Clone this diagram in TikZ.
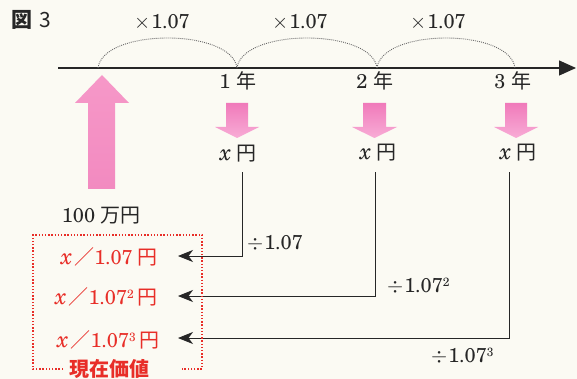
\documentclass[tikz,border=0pt]{standalone}
\usepackage{fontspec}
\setmainfont{TeX Gyre Schola}
\newfontfamily\jp{Noto Sans CJK JP}
\usetikzlibrary{arrows.meta}
\definecolor{bg}{RGB}{251,250,243}
\definecolor{ink}{RGB}{38,38,38}
\definecolor{redtxt}{RGB}{232,46,40}
\definecolor{pinkd}{RGB}{240,122,186}
\definecolor{pinkl}{RGB}{248,172,214}
\definecolor{pinku}{RGB}{242,138,192}
\definecolor{pinkv}{RGB}{246,152,200}
\newcommand\jpn[1]{{\jp\fontsize{20}{24}\selectfont #1}}
\newcommand\supr[1]{\raisebox{5.5pt}{\fontsize{12}{12}\selectfont #1}}
\newcommand\xv{{\fontsize{23}{24}\selectfont\itshape x}}
\tikzset{
  txt/.style={inner sep=0pt, text height=14pt, text depth=4pt, text=ink, font=\fontsize{20}{24}\selectfont},
  pv/.style={txt, text=redtxt},
  conn/.style={draw=ink, line width=0.9pt, -{Stealth[length=15pt,width=12pt,inset=4.5pt]}},
  axisline/.style={draw=ink, line width=1.3pt, -{Triangle[length=17pt,width=15pt]}},
  arcline/.style={draw=black!60, line width=0.9pt, dash pattern=on 0.9pt off 1.1pt},
  pinkdown/.style={top color=pinkd, bottom color=pinkl, draw=none},
  pinkup/.style={top color=pinkv, bottom color=pinku, draw=none},
  redbox/.style={draw=redtxt, line width=1.4pt, dash pattern=on 1.4pt off 1.8pt},
}
\begin{document}
\begin{tikzpicture}[x=1pt,y=-1pt]
\useasboundingbox (0,0) rectangle (577,379);
\fill[bg] (0,0) rectangle (577,379);

% axis
\coordinate (ax0) at (58,68);
\coordinate (ax1) at (576,68);
\draw[axisline] (ax0) -- (ax1);
\coordinate (t0) at (98,68);
\coordinate (t1) at (237,68);
\coordinate (t2) at (377,68);
\coordinate (t3) at (515,68);
\draw[arcline] (t0) .. controls (103,28) and (232,28) .. (t1);
\draw[arcline] (t1) .. controls (242,28) and (372,28) .. (t2);
\draw[arcline] (t2) .. controls (382,28) and (510,28) .. (t3);

% title and multipliers
\node[txt, anchor=west] (fig) at (11,23) {{\jp\fontsize{21}{24}\selectfont\bfseries 図}\hspace{7pt}{\jp\fontsize{21}{24}\selectfont 3}};
\node[txt] (m1) at (162,23.5) {$\times$\hspace{1pt}1.07};
\node[txt] (m2) at (300,23.5) {$\times$\hspace{1pt}1.07};
\node[txt] (m3) at (438,23.5) {$\times$\hspace{1pt}1.07};

% years
\node[txt] (y1) at (238,84) {1\hspace{6pt}\jpn{年}};
\node[txt] (y2) at (375,84) {2\hspace{6pt}\jpn{年}};
\node[txt] (y3) at (513,84) {3\hspace{6pt}\jpn{年}};

% pink arrows
\path[pinkup] (88,189) -- (88,103) -- (75,103) -- (102,75) -- (129,103) -- (115,103) -- (115,189) -- cycle;
\path[pinkdown] (226,103) -- (248,103) -- (248,127) -- (259,127) -- (237,138) -- (215,127) -- (226,127) -- cycle;
\path[pinkdown] (363,103) -- (386,103) -- (386,127) -- (397,127) -- (374.5,138) -- (352,127) -- (363,127) -- cycle;
\path[pinkdown] (505,103) -- (527,103) -- (527,127) -- (538,127) -- (516,138) -- (494,127) -- (505,127) -- cycle;

% amounts
\node[txt] (x1) at (238,156) {\xv\hspace{5pt}\jpn{円}};
\node[txt] (x2) at (378,155) {\xv\hspace{5pt}\jpn{円}};
\node[txt] (x3) at (518,155) {\xv\hspace{5pt}\jpn{円}};
\node[txt] (base) at (101,217) {100\hspace{5pt}\jpn{万円}};

% present values
\node[pv, anchor=east] (p1) at (158,259) {\xv\hspace{2pt}\jpn{／}1.07\hspace{5pt}\jpn{円}};
\node[pv, anchor=east] (p2) at (158,299) {\xv\hspace{2pt}\jpn{／}1.07\supr{2}\hspace{4pt}\jpn{円}};
\node[pv, anchor=east] (p3) at (160,342) {\xv\hspace{2pt}\jpn{／}1.07\supr{3}\hspace{4pt}\jpn{円}};

% connectors
\draw[conn] ([xshift=4pt,yshift=-7pt]x1.south) |- ([xshift=20pt,yshift=3pt]p1.east);
\draw[conn] ([xshift=-3pt,yshift=-8pt]x2.south) |- ([xshift=20pt,yshift=3pt]p2.east);
\draw[conn] ([xshift=-9pt,yshift=-8pt]x3.south) |- ([xshift=18pt,yshift=4pt]p3.east);

% divisors
\node[txt, anchor=west] (d1) at (247,244) {$\div$\hspace{1pt}1.07};
\node[txt, anchor=west] (d2) at (387,287) {$\div$\hspace{1pt}1.07\supr{2}};
\node[txt, anchor=west] (d3) at (431,357) {$\div$\hspace{1pt}1.07\supr{3}};

% red dotted box
\draw[redbox] (63,369) -- (33,369) -- (33,235) -- (202,235) -- (202,369) -- (182,369);
\node[txt, text=redtxt] (pvlabel) at (109,371) {\jp\fontsize{20}{24}\selectfont\bfseries 現在価値};
\end{tikzpicture}
\end{document}
